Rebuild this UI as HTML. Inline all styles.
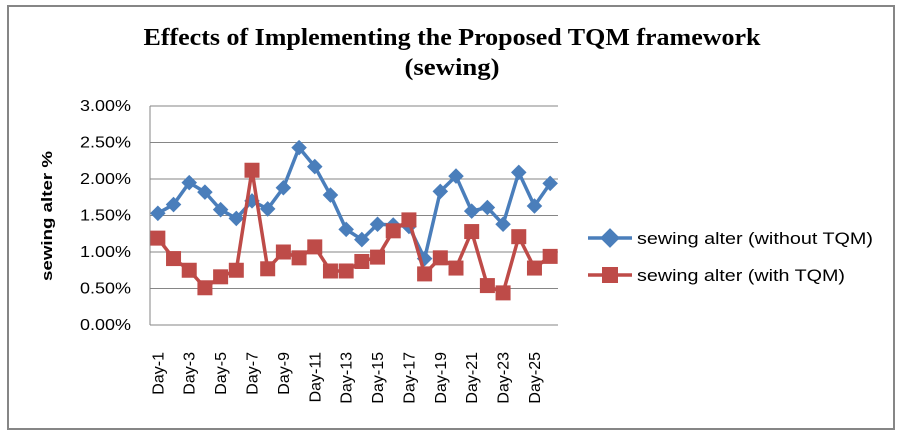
<!DOCTYPE html>
<html><head><meta charset="utf-8"><style>
body{margin:0;background:#fff;}
svg{display:block;font-family:"Liberation Sans",sans-serif;}
</style></head><body>
<svg id="chart" width="902" height="433">
<rect x="8" y="6" width="886" height="423" fill="#fff" stroke="#868686" stroke-width="2"/>
<text x="452" y="45" text-anchor="middle" font-family="Liberation Serif,serif" font-weight="bold" font-size="24" textLength="617" lengthAdjust="spacingAndGlyphs">Effects of Implementing the Proposed  TQM framework</text>
<text x="452" y="75" text-anchor="middle" font-family="Liberation Serif,serif" font-weight="bold" font-size="24" textLength="95" lengthAdjust="spacingAndGlyphs">(sewing)</text>
<text transform="translate(52,216) rotate(-90)" text-anchor="middle" font-weight="bold" font-size="15" textLength="130" lengthAdjust="spacingAndGlyphs">sewing alter %</text>
<g id="grid"></g><g id="yt"></g><g id="xt"></g><g id="series"></g>
<g>
<line x1="588" y1="238" x2="632" y2="238" stroke="#4a7ebb" stroke-width="3.5"/>
<rect x="603" y="231" width="14" height="14" fill="#4a7ebb" transform="rotate(45 610 238)"/>
<text x="637" y="244" font-size="17" textLength="236" lengthAdjust="spacingAndGlyphs">sewing alter (without TQM)</text>
<line x1="588" y1="275" x2="632" y2="275" stroke="#be4b48" stroke-width="3.5"/>
<rect x="602" y="267" width="16" height="16" fill="#be4b48"/>
<text x="637" y="281" font-size="17" textLength="208" lengthAdjust="spacingAndGlyphs">sewing alter (with TQM)</text>
</g>
</svg>
<script>
const categories=[];for(let i=1;i<=26;i++)categories.push('Day-'+i);
const withoutTQM=[1.53,1.65,1.95,1.82,1.58,1.46,1.70,1.59,1.88,2.43,2.17,1.78,1.31,1.17,1.38,1.37,1.35,0.91,1.83,2.04,1.56,1.61,1.38,2.09,1.63,1.94];
const withTQM=[1.19,0.91,0.75,0.51,0.66,0.75,2.12,0.77,1.00,0.92,1.07,0.74,0.74,0.87,0.93,1.29,1.44,0.70,0.92,0.78,1.28,0.54,0.44,1.21,0.78,0.94];
const yTicks=[0,0.5,1,1.5,2,2.5,3];
const NS='http://www.w3.org/2000/svg';
const L=150,R=558,T=106,B=325;
const xs=i=>L+(i+0.5)*(R-L)/categories.length;
const ys=v=>B-(v/3)*(B-T);
function mk(tag,attrs,parent){const e=document.createElementNS(NS,tag);for(const k in attrs)e.setAttribute(k,attrs[k]);document.getElementById(parent).appendChild(e);return e;}
yTicks.forEach(v=>{
 const g=mk('line',{x1:L,x2:R,y1:ys(v),y2:ys(v),stroke:'#868686','stroke-width':1},'grid');
 
 
 const t=mk('text',{x:131,y:ys(v)+5,'text-anchor':'end','font-size':16,textLength:51,lengthAdjust:'spacingAndGlyphs'},'yt');
 t.textContent=v.toFixed(2)+'%';
 
 
});
const ax=mk('line',{x1:L,x2:L,y1:T,y2:B,stroke:'#868686','stroke-width':1},'grid');


categories.forEach((c,i)=>{
 if(i%2)return;
 const t=mk('text',{transform:`translate(${xs(i)+5.5},352) rotate(-90)`,'text-anchor':'end','font-size':16},'xt');
 t.textContent=c;
 
 
});
function series(vals,color,shape,name){
 const pl=mk('polyline',{points:vals.map((v,i)=>xs(i)+','+ys(v)).join(' '),fill:'none',stroke:color,'stroke-width':3.5,'stroke-linejoin':'round'},'series');
 
 
 vals.forEach((v,i)=>{
  let m;
  if(shape==='d'){m=mk('rect',{x:xs(i)-5.5,y:ys(v)-5.5,width:11,height:11,fill:color,transform:`rotate(45 ${xs(i)} ${ys(v)})`},'series');}
  else{m=mk('rect',{x:xs(i)-7.5,y:ys(v)-7.5,width:15,height:15,fill:color},'series');}
  
  
 });
}
series(withoutTQM,'#4a7ebb','d','without-tqm');
series(withTQM,'#be4b48','s','with-tqm');
</script>
</body></html>
